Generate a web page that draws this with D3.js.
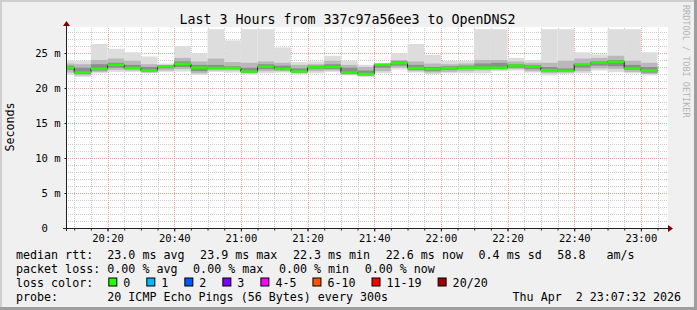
<!DOCTYPE html>
<html>
<head>
<meta charset="utf-8">
<script src="https://cdn.jsdelivr.net/npm/d3@7"></script>
<style>
  body { margin: 0; background: #f0f0f0; }
  svg text { font-family: "DejaVu Sans Mono", monospace; fill: #000; }
</style>
</head>
<body>
<svg id="chart"></svg>
<script>
// 5 minute buckets, label = end of bucket
const bucketEnds = ["20:10","20:15","20:20","20:25","20:30","20:35","20:40","20:45","20:50","20:55",
  "21:00","21:05","21:10","21:15","21:20","21:25","21:30","21:35","21:40","21:45",
  "21:50","21:55","22:00","22:05","22:10","22:15","22:20","22:25","22:30","22:35",
  "22:40","22:45","22:50","22:55","23:00","23:05"];
// milliseconds
const medianRtt = [22.9,22.2,22.75,23.3,22.85,22.5,23.05,23.45,22.9,22.85,
  22.85,22.35,23.05,22.7,22.35,22.95,23.0,22.2,22.0,23.35,
  23.55,22.85,22.7,22.85,22.9,22.9,22.9,23.2,23.05,22.55,
  22.45,23.4,23.65,23.75,22.8,22.5];
const pingMin = [21.9,21.6,22.1,22.3,22.3,22.1,22.3,22.35,21.85,22.3,
  22.2,21.9,22.1,22.2,21.95,22.1,22.3,21.8,21.6,22.1,
  22.65,22.2,22.0,22.1,22.1,22.1,22.4,22.5,22.2,21.8,
  22.0,22.1,22.5,22.25,22.1,21.8];
const pingP10 = [22.2,21.8,22.3,22.6,22.5,22.2,22.5,22.7,22.1,22.5,
  22.5,22.1,22.4,22.4,22.1,22.4,22.5,21.9,21.7,22.4,
  22.9,22.4,22.2,22.3,22.4,22.5,22.6,22.7,22.4,22.1,
  22.2,22.4,22.8,22.7,22.3,22.0];
const pingP25 = [22.6,22.0,22.5,22.9,22.7,22.35,22.8,23.0,22.4,22.7,
  22.7,22.2,22.7,22.6,22.25,22.7,22.7,22.05,21.8,22.9,
  23.2,22.6,22.4,22.6,22.7,22.7,22.75,22.9,22.7,22.35,
  22.35,22.9,23.2,23.1,22.6,22.2];
const pingP75 = [23.2,22.9,23.4,23.6,23.3,23.0,23.2,23.8,23.3,23.3,
  23.1,22.9,23.4,23.2,22.8,23.2,23.4,22.9,22.5,23.4,
  23.8,23.3,23.0,23.1,23.2,23.5,23.6,23.4,23.3,23.0,
  22.8,23.5,23.8,24.0,23.3,23.0];
const pingP90 = [23.5,23.4,24.0,24.2,23.9,23.4,23.3,24.3,23.8,24.2,
  23.7,23.6,23.8,23.6,23.3,23.4,23.9,23.3,23.0,23.45,
  24.0,23.8,23.5,23.4,23.5,24.0,24.0,23.8,23.6,23.6,
  23.9,24.2,24.3,24.6,23.9,23.6];
const pingMax = [23.9,23.9,26.3,25.6,25.1,24.5,23.5,26.0,24.95,28.4,
  26.8,28.4,28.4,25.8,23.7,23.8,24.6,23.9,23.3,23.5,
  24.95,26.3,24.75,23.85,23.85,28.4,28.4,24.3,24.0,28.4,
  28.4,25.1,24.8,28.4,28.4,25.1];
const yTicks = [0, 5, 10, 15, 20, 25];
const lossLabels = ["0", "1", "2", "3", "4-5", "6-10", "11-19", "20/20"];
const lossColors = ["#26ff00", "#00b8ff", "#0059ff", "#7e00ff", "#ff00ff", "#ff5500", "#ff0000", "#a10000"];
const rttLegend = ["23.0 ms avg", "23.9 ms max", "22.3 ms min", "22.6 ms now", "0.4 ms sd", "58.8   am/s"];
const lossLegend = ["0.00 % avg", "0.00 % max", "0.00 % min", "0.00 % now"];
const titleText = "Last 3 Hours from 337c97a56ee3 to OpenDNS2";
const probeText = "20 ICMP Echo Pings (56 Bytes) every 300s";
const stampText = "Thu Apr  2 23:07:32 2026";

class SmokeGraph {
    constructor(_config, _data) {
        this.config = {
            parentElement: _config.parentElement,
            width: 697,
            height: 310,
            left: 66, right: 666, top: 28, bottom: 228,
            start: _config.start,
            end: _config.end,
            yMax: 200 / 7,
            charW: 7.02
        }
        this.data = _data;
        this.initVis();
    }

    initVis() {
        let vis = this;
        const c = vis.config;

        vis.svg = d3.select(c.parentElement)
            .attr('width', c.width)
            .attr('height', c.height);

        // frame
        vis.svg.append('rect').attr('width', c.width).attr('height', c.height).attr('fill', '#f0f0f0');
        vis.svg.append('rect').attr('width', c.width).attr('height', 2).attr('fill', '#cfcfcf');
        vis.svg.append('rect').attr('width', 2).attr('height', c.height).attr('fill', '#cfcfcf');
        vis.svg.append('rect').attr('y', c.height - 3).attr('width', c.width).attr('height', 3).attr('fill', '#9e9e9e');
        vis.svg.append('rect').attr('x', c.width - 3).attr('width', 3).attr('height', c.height).attr('fill', '#9e9e9e');

        vis.svg.append('rect')
            .attr('x', c.left).attr('y', c.top - 1)
            .attr('width', c.right - c.left + 2).attr('height', c.bottom - c.top + 1)
            .attr('fill', '#fff');

        vis.xScale = d3.scaleUtc()
            .domain([c.start, c.end])
            .range([c.left, c.right]);

        vis.yScale = d3.scaleLinear()
            .domain([0, c.yMax])
            .range([c.bottom, c.top]);

        vis.svg.append('clipPath').attr('id', 'plotclip')
            .append('rect')
            .attr('x', c.left).attr('y', c.top)
            .attr('width', c.right - c.left).attr('height', c.bottom - c.top);

        vis.gridG = vis.svg.append('g');
        vis.chart = vis.svg.append('g').attr('clip-path', 'url(#plotclip)');
        vis.axisG = vis.svg.append('g');
        vis.textG = vis.svg.append('g');
    }

    updateVis() {
        let vis = this;
        const parse = d3.utcParse('%Y-%m-%d %H:%M');
        vis.buckets = vis.data.ends.map((e, i) => {
            const end = parse('2026-04-02 ' + e);
            return {
                start: d3.utcMinute.offset(end, -5),
                end: end,
                median: vis.data.median[i],
                bands: [
                    [vis.data.min[i], vis.data.max[i]],
                    [vis.data.p10[i], vis.data.p90[i]],
                    [vis.data.p25[i], vis.data.p75[i]]
                ]
            };
        });
        vis.renderVis();
    }

    renderVis() {
        let vis = this;
        const c = vis.config;
        const x = vis.xScale, y = vis.yScale;
        const gridRight = c.right + 2;

        // minor grid
        const minorX = d3.utcMinute.every(5).range(c.start, c.end).filter(t => t.getUTCMinutes() % 20 !== 0);
        const minorY = y.ticks(28).filter(v => v % 5 !== 0);
        vis.gridG.selectAll('.vminor').data(minorX).join('line')
            .attr('x1', d => Math.round(x(d)) + 0.5).attr('x2', d => Math.round(x(d)) + 0.5)
            .attr('y1', c.top).attr('y2', c.bottom)
            .attr('stroke', '#cccccc').attr('stroke-dasharray', '1,1');
        vis.gridG.selectAll('.hminor').data(minorY).join('line')
            .attr('x1', c.left).attr('x2', gridRight)
            .attr('y1', d => Math.round(y(d)) + 0.5).attr('y2', d => Math.round(y(d)) + 0.5)
            .attr('stroke', '#cccccc').attr('stroke-dasharray', '1,1');

        // major grid
        const majorX = d3.utcMinute.every(20).range(c.start, c.end);
        vis.gridG.selectAll('.vmajor').data(majorX).join('line')
            .attr('x1', d => Math.round(x(d)) + 0.5).attr('x2', d => Math.round(x(d)) + 0.5)
            .attr('y1', c.top).attr('y2', c.bottom)
            .attr('stroke', '#f4a0a0').attr('stroke-dasharray', '1,1');
        vis.gridG.selectAll('.hmajor').data(yTicks.filter(v => v > 0)).join('line')
            .attr('x1', c.left).attr('x2', gridRight)
            .attr('y1', d => Math.round(y(d)) + 0.5).attr('y2', d => Math.round(y(d)) + 0.5)
            .attr('stroke', '#f4a0a0').attr('stroke-dasharray', '1,1');

        // smoke
        const shades = ['#dddddd', '#b9b9b9', '#8e8e8e'];
        shades.forEach((col, k) => {
            vis.chart.append('g').selectAll('rect').data(vis.buckets).join('rect')
                .attr('x', d => x(d.start))
                .attr('width', d => x(d.end) - x(d.start))
                .attr('y', d => y(d.bands[k][1]))
                .attr('height', d => y(d.bands[k][0]) - y(d.bands[k][1]))
                .attr('fill', col);
        });

        // median step line
        const pts = vis.buckets.map(d => [x(d.start), y(d.median)]);
        const last = vis.buckets[vis.buckets.length - 1];
        pts.push([x(last.end), y(last.median)]);
        vis.chart.append('path')
            .attr('d', d3.line().curve(d3.curveStepAfter)(pts))
            .attr('fill', 'none')
            .attr('stroke', '#202020')
            .attr('stroke-width', 1);

        vis.chart.append('g').selectAll('rect').data(vis.buckets).join('rect')
            .attr('x', d => x(d.start))
            .attr('width', d => x(d.end) - x(d.start))
            .attr('y', d => y(d.median) - 1.2)
            .attr('height', 2.4)
            .attr('fill', lossColors[0]);

        // axes
        const xMinorAxis = d3.axisBottom(x)
            .ticks(d3.utcMinute.every(5))
            .tickSize(2)
            .tickFormat('');
        vis.axisG.append('g')
            .attr('transform', `translate(0, ${c.bottom + 0.5})`)
            .call(xMinorAxis)
            .call(g => g.select('.domain').remove())
            .call(g => g.selectAll('line').attr('stroke', '#202020'));

        const xAxis = d3.axisBottom(x)
            .ticks(d3.utcMinute.every(20))
            .tickSize(3)
            .tickPadding(3)
            .tickFormat(d3.utcFormat('%H:%M'));
        vis.axisG.append('g')
            .attr('transform', `translate(0, ${c.bottom + 0.5})`)
            .call(xAxis)
            .call(g => g.select('.domain').remove())
            .call(g => g.selectAll('line').attr('stroke', '#202020'))
            .call(g => g.selectAll('text').attr('font-size', 10.5)
                .attr('font-family', '"DejaVu Sans Mono", monospace').attr('fill', '#000'));

        const yAxis = d3.axisLeft(y)
            .tickValues(yTicks)
            .tickSize(2)
            .tickPadding(4)
            .tickFormat(d => d === 0 ? '0  ' : d + ' m');
        vis.axisG.append('g')
            .attr('transform', `translate(${c.left + 0.5}, 0)`)
            .call(yAxis)
            .call(g => g.select('.domain').remove())
            .call(g => g.selectAll('line').attr('stroke', '#202020'))
            .call(g => g.selectAll('text').attr('font-size', 10.5)
                .style('white-space', 'pre')
                .attr('font-family', '"DejaVu Sans Mono", monospace').attr('fill', '#000'));

        // axis lines + arrows
        vis.axisG.append('line')
            .attr('x1', c.left - 3).attr('x2', c.right + 4)
            .attr('y1', c.bottom + 0.5).attr('y2', c.bottom + 0.5)
            .attr('stroke', '#202020');
        vis.axisG.append('line')
            .attr('x1', c.left + 0.5).attr('x2', c.left + 0.5)
            .attr('y1', c.bottom + 3).attr('y2', c.top - 4)
            .attr('stroke', '#202020');
        vis.axisG.append('path')
            .attr('d', `M${c.right + 2},${c.bottom - 3} L${c.right + 7},${c.bottom + 0.5} L${c.right + 2},${c.bottom + 4} Z`)
            .attr('fill', '#7f0000');
        vis.axisG.append('path')
            .attr('d', `M${c.left - 3},${c.top - 2} L${c.left + 0.5},${c.top - 7} L${c.left + 4},${c.top - 2} Z`)
            .attr('fill', '#7f0000');

        // titles
        const t = vis.textG;
        t.append('text').attr('x', 347.5).attr('y', 23.5)
            .attr('text-anchor', 'middle').attr('font-size', 13.3).text(titleText);
        t.append('text').attr('transform', 'translate(13.5, 127) rotate(-90)')
            .attr('text-anchor', 'middle').attr('font-size', 11.66).text('Seconds');
        t.append('text').attr('transform', 'translate(683, 5) rotate(90)')
            .attr('font-size', 8.5).style('fill', '#b4b4b4')
            .text('RRDTOOL / TOBI OETIKER');

        // legend
        const fs = 11.66, cw = c.charW, gap = 15.6, col = 107.3;
        const rows = [258.5, 272.5, 286.5, 300.5];
        const addRow = (label, items, yy) => {
            t.append('text').attr('x', 16).attr('y', yy).attr('font-size', fs).text(label);
            let xx = col;
            items.forEach(s => {
                t.append('text').attr('x', xx).attr('y', yy).attr('font-size', fs)
                    .style('white-space', 'pre').text(s);
                xx += s.length * cw + gap;
            });
        };
        addRow('median rtt:', rttLegend, rows[0]);
        addRow('packet loss:', lossLegend, rows[1]);

        t.append('text').attr('x', 16).attr('y', rows[2]).attr('font-size', fs).text('loss color:');
        let lx = col;
        lossLabels.forEach((lab, i) => {
            t.append('rect').attr('x', lx + 1.5).attr('y', rows[2] - 8.5)
                .attr('width', 8).attr('height', 8)
                .attr('fill', lossColors[i]).attr('stroke', '#000').attr('stroke-width', 1);
            t.append('text').attr('x', lx + 16).attr('y', rows[2]).attr('font-size', fs).text(lab);
            lx += 16 + lab.length * cw + 15;
        });

        t.append('text').attr('x', 16).attr('y', rows[3]).attr('font-size', fs).text('probe:');
        t.append('text').attr('x', col).attr('y', rows[3]).attr('font-size', fs).text(probeText);
        t.append('text').attr('x', 681).attr('y', rows[3]).attr('font-size', fs)
            .attr('text-anchor', 'end').style('white-space', 'pre').text(stampText);
    }
}

const graph = new SmokeGraph({
    parentElement: '#chart',
    start: new Date(Date.UTC(2026, 3, 2, 20, 7, 32)),
    end: new Date(Date.UTC(2026, 3, 2, 23, 7, 32))
}, {
    ends: bucketEnds,
    median: medianRtt,
    min: pingMin, p10: pingP10, p25: pingP25,
    p75: pingP75, p90: pingP90, max: pingMax
});
graph.updateVis();
</script>
</body>
</html>
